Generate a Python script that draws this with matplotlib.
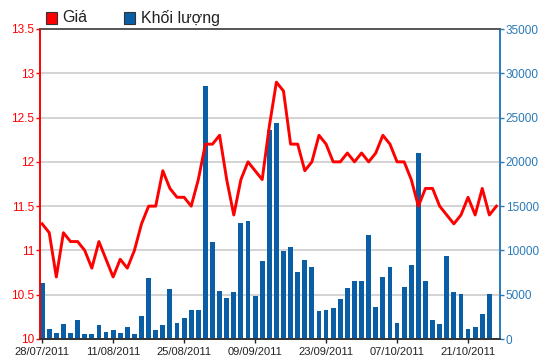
import matplotlib
matplotlib.use("Agg")
import matplotlib.pyplot as plt
from matplotlib.patches import Rectangle

plt.rcParams['font.family'] = ['Liberation Sans', 'DejaVu Sans']

# gia dong cua (nghin dong), 65 phien
gia = [11.3, 11.2, 10.7, 11.2, 11.1, 11.1, 11.0, 10.8, 11.1, 10.9,
       10.7, 10.9, 10.8, 11.0, 11.3, 11.5, 11.5, 11.9, 11.7, 11.6,
       11.6, 11.5, 11.8, 12.2, 12.2, 12.3, 11.8, 11.4, 11.8, 12.0,
       11.9, 11.8, 12.4, 12.9, 12.8, 12.2, 12.2, 11.9, 12.0, 12.3,
       12.2, 12.0, 12.0, 12.1, 12.0, 12.1, 12.0, 12.1, 12.3, 12.2,
       12.0, 12.0, 11.8, 11.5, 11.7, 11.7, 11.5, 11.4, 11.3, 11.4,
       11.6, 11.4, 11.7, 11.4, 11.5]

# khoi luong, 64 phien (phien cuoi chua co)
khoi_luong = [6300, 1150, 700, 1700, 700, 2150, 600, 600, 1600, 800,
              1000, 700, 1350, 600, 2600, 6900, 1000, 1600, 5650, 1800,
              2400, 3300, 3300, 28600, 10900, 5450, 4650, 5300, 13150, 13300,
              4850, 8800, 23600, 24400, 9950, 10400, 7550, 8950, 8100, 3200,
              3300, 3450, 4500, 5750, 6550, 6550, 11750, 3600, 7000, 8100,
              1850, 5900, 8400, 21000, 6600, 2100, 1700, 9400, 5300, 5100,
              1100, 1400, 2800, 5100]

tick_pos = [0, 10, 20, 30, 40, 50, 60]
tick_labels = ['28/07/2011', '11/08/2011', '25/08/2011', '09/09/2011',
               '23/09/2011', '07/10/2011', '21/10/2011']

red = '#FF0000'
blue = '#0A5EA6'
axblue = '#2A7AB8'

fig = plt.figure(figsize=(5.5, 3.64), dpi=100)
ax = fig.add_axes([40/550, 25/364, 460/550, 310/364])
ax2 = ax.twinx()

ax2.bar(range(len(khoi_luong)), khoi_luong, width=0.68, color=blue, zorder=2)
ax2.set_ylim(0, 35000)
ax2.set_yticks(range(0, 35001, 5000))

ax.set_zorder(ax2.get_zorder() + 1)
ax.patch.set_visible(False)
ax.plot(range(len(gia)), gia, color=red, lw=2.1, zorder=3)
ax.set_ylim(10, 13.5)
ax.set_yticks([10, 10.5, 11, 11.5, 12, 12.5, 13, 13.5])
ax.set_yticklabels(['10', '10.5', '11', '11.5', '12', '12.5', '13', '13.5'])
ax.set_xlim(-0.3, 64.5)
ax.set_xticks(tick_pos)
ax.set_xticklabels(tick_labels)

# luoi ngang phia sau cot
for v in range(5000, 35000, 5000):
    ax2.axhline(v, color='#D3D3D3', lw=1.4, zorder=1)

ax.tick_params(axis='y', colors=red, labelsize=8.5, length=3, width=1, pad=1)
ax.tick_params(axis='x', colors='#222222', labelsize=8, length=3, width=1, pad=3)
ax2.tick_params(axis='y', colors=axblue, labelsize=8.5, length=3, width=1, pad=1)

for a in (ax, ax2):
    a.spines['left'].set_color(red)
    a.spines['right'].set_color(axblue)
    a.spines['top'].set_color('#555555')
    a.spines['bottom'].set_color('#333333')
    for s in a.spines.values():
        s.set_linewidth(1.2)

# chu thich
fig.patches.append(Rectangle((46/550, 1 - 24/364), 11/550, 12/364,
                             transform=fig.transFigure, facecolor=red,
                             edgecolor='#333333', lw=0.8))
fig.text(62/550, 1 - 18/364, 'Giá', fontsize=11.5, va='center', color='#222222')
fig.patches.append(Rectangle((124/550, 1 - 24/364), 11/550, 12/364,
                             transform=fig.transFigure, facecolor=blue,
                             edgecolor='#333333', lw=0.8))
fig.text(141/550, 1 - 18/364, 'Khối lượng', fontsize=11.5, va='center', color='#222222')

fig.savefig('out.png', dpi=100)
